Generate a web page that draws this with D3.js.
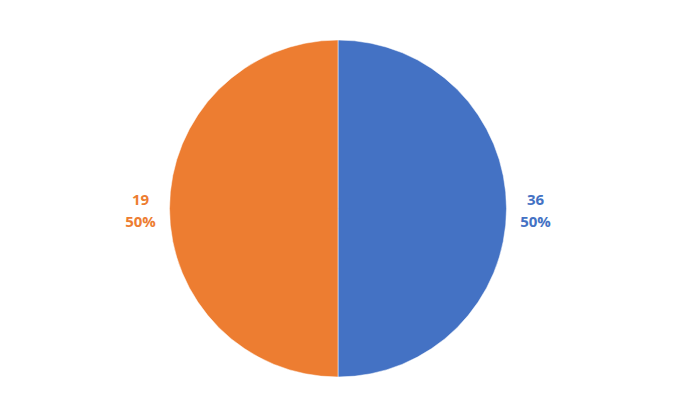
<!DOCTYPE html>
<html>
<head>
<meta charset="utf-8">
<script src="https://cdn.jsdelivr.net/npm/d3@7"></script>
<style>
  body { margin: 0; background: #fff; }
  svg text { font-family: "Open Sans", "Liberation Sans", sans-serif; font-weight: bold; }
</style>
</head>
<body>
<svg width="675" height="419"></svg>
<script>
// datos del gráfico
const categories = ["A", "B"];
const shares = [50, 50];          // porcentaje de cada porción
const labelValues = [36, 19];     // valores mostrados en las etiquetas
const colors = ["#4472C4", "#ED7D31"];

const svg = d3.select("svg");
const cx = 338, cy = 208.5, r = 168.5;

const pie = d3.pie().sort(null).value(d => d)(shares);
const arc = d3.arc().innerRadius(0).outerRadius(r);
const labelArc = d3.arc().innerRadius(r + 29).outerRadius(r + 29);

const g = svg.append("g").attr("transform", `translate(${cx},${cy})`);

g.selectAll("path")
  .data(pie)
  .enter()
  .append("path")
  .attr("d", arc)
  .attr("fill", (d, i) => colors[i])
  .attr("stroke", "#fff")
  .attr("stroke-width", 0.5);

// etiquetas: valor y porcentaje
const labelGroups = g.selectAll(".lbl")
  .data(pie)
  .enter()
  .append("g")
  .attr("class", "lbl")
  .attr("transform", d => `translate(${labelArc.centroid(d)})`);

labelGroups.append("text")
  .attr("y", -4)
  .attr("text-anchor", "middle")
  .attr("fill", (d, i) => colors[i])
  .style("font-size", "15px")
  .text((d, i) => labelValues[i]);

labelGroups.append("text")
  .attr("y", 18)
  .attr("text-anchor", "middle")
  .attr("fill", (d, i) => colors[i])
  .style("font-size", "15px")
  .text((d, i) => Math.round(shares[i] / d3.sum(shares) * 100) + "%");
</script>
</body>
</html>
